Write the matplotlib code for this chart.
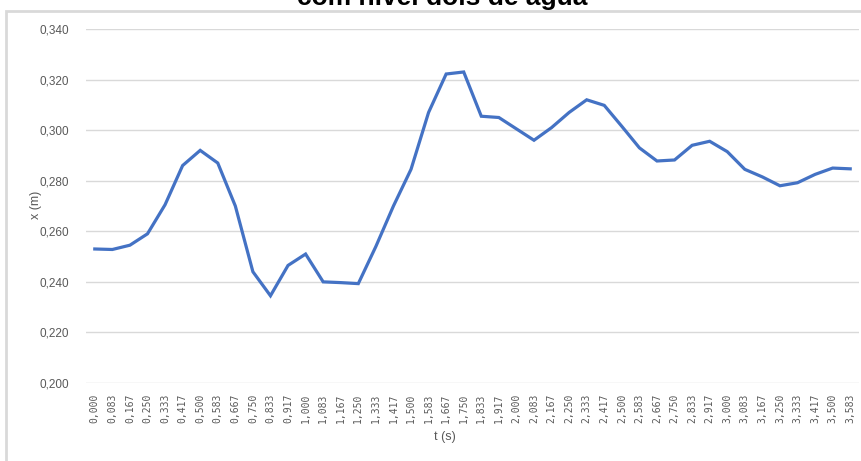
import matplotlib
matplotlib.use("Agg")
import matplotlib.pyplot as plt
from matplotlib.patches import Rectangle

t_labels = ["0,000", "0,083", "0,167", "0,250", "0,333", "0,417", "0,500", "0,583",
            "0,667", "0,750", "0,833", "0,917", "1,000", "1,083", "1,167", "1,250",
            "1,333", "1,417", "1,500", "1,583", "1,667", "1,750", "1,833", "1,917",
            "2,000", "2,083", "2,167", "2,250", "2,333", "2,417", "2,500", "2,583",
            "2,667", "2,750", "2,833", "2,917", "3,000", "3,083", "3,167", "3,250",
            "3,333", "3,417", "3,500", "3,583"]
x_values = [0.2530, 0.2528, 0.2545, 0.2590, 0.2705, 0.2860, 0.2920, 0.2870,
            0.2700, 0.2440, 0.2345, 0.2465, 0.2510, 0.2400, 0.2397, 0.2393,
            0.2540, 0.2700, 0.2845, 0.3070, 0.3222, 0.3230, 0.3055, 0.3050,
            0.3005, 0.2960, 0.3010, 0.3070, 0.3120, 0.3098, 0.3015, 0.2930,
            0.2878, 0.2882, 0.2940, 0.2956, 0.2915, 0.2845, 0.2815, 0.2780,
            0.2792, 0.2825, 0.2850, 0.2847]
y_ticks = [0.200, 0.220, 0.240, 0.260, 0.280, 0.300, 0.320, 0.340]

W, H = 861, 461
fig = plt.figure(figsize=(W / 100, H / 100), dpi=100)
fig.patch.set_facecolor("white")

# chart border
fig.patches.append(Rectangle((6 / W, -0.1), 1.2, (H - 11) / H + 0.1,
                             transform=fig.transFigure, fill=False,
                             edgecolor="#d9d9d9", linewidth=2))

ax = fig.add_axes([86 / W, 1 - 383 / H, (859 - 86) / W, (383 - 29) / H])
idx = list(range(len(x_values)))
ax.plot(idx, x_values, color="#4472C4", linewidth=2.3, solid_joinstyle="miter")

ax.set_xlim(-0.5, len(x_values) - 0.5)
ax.set_ylim(0.200, 0.340)
ax.set_yticks(y_ticks)
ax.set_yticklabels([f"{v:.3f}".replace(".", ",") for v in y_ticks],
                   fontsize=8.5, color="#595959", family="Liberation Sans")
ax.set_xticks(idx)
ax.set_xticklabels(t_labels, rotation=90, fontsize=7, color="#595959",
                   family="DejaVu Sans Mono")
ax.tick_params(axis="both", length=0)
ax.tick_params(axis="x", pad=8)
ax.tick_params(axis="y", pad=12)
ax.grid(axis="y", color="#d9d9d9", linewidth=1)
ax.set_axisbelow(True)
for s in ax.spines.values():
    s.set_visible(False)

fig.text(445 / W, 1 - 437 / H, "t (s)", ha="center", va="center",
         fontsize=9, color="#595959", family="Liberation Sans")
fig.text(36 / W, 1 - 205 / H, "x (m)", ha="center", va="center", rotation=90,
         fontsize=9, color="#595959", family="Liberation Sans")
fig.text(442 / W, 1 - 5 / H, "com nível dois de água", ha="center", va="baseline",
         fontsize=19, fontweight="bold", color="black", family="Liberation Sans")

fig.savefig("out.png", dpi=100)
